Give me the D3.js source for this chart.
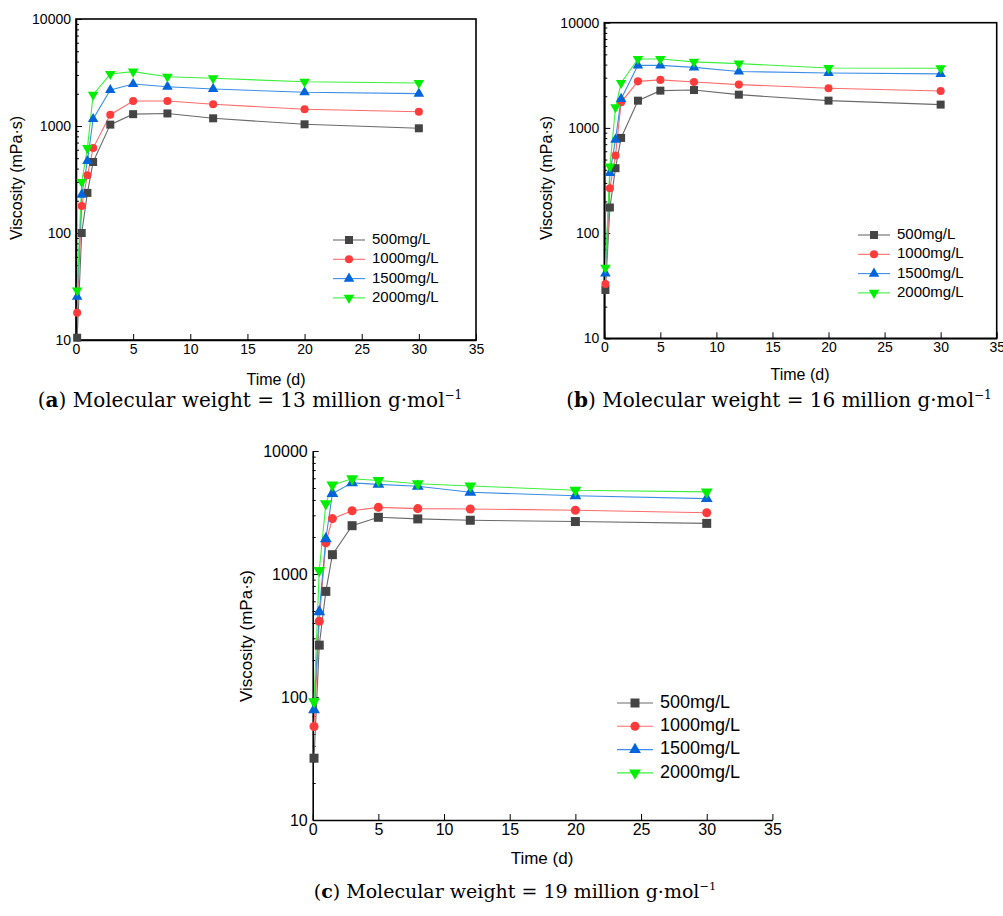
<!DOCTYPE html>
<html>
<head>
<meta charset="utf-8">
<script src="https://cdn.jsdelivr.net/npm/d3@7"></script>
<style>
  body { margin: 0; background: #fff; }
  svg { display: block; }
  .tick text { font-family: "Liberation Sans", Arial, sans-serif; fill: #000; }
  .axis path, .axis line { stroke: #000; }
</style>
</head>
<body>
<div id="chart"></div>
<script>
// time points (days), shared by all three panels
var times = [0.1, 0.5, 1, 1.5, 3, 5, 8, 12, 20, 30];
var seriesNames = ["500mg/L", "1000mg/L", "1500mg/L", "2000mg/L"];
var xTicks = [0, 5, 10, 15, 20, 25, 30, 35];
var yTicks = [10, 100, 1000, 10000];

// (a) 13 million g/mol
var a500 = [10.5, 100, 237, 461, 1030, 1290, 1310, 1180, 1037, 952];
var a1000 = [18, 179, 347, 622, 1275, 1713, 1713, 1595, 1432, 1360];
var a1500 = [25.4, 228, 470, 1162, 2170, 2470, 2330, 2220, 2065, 2005];
var a2000 = [29, 300, 622, 1960, 3060, 3220, 2890, 2790, 2595, 2525];

// (b) 16 million g/mol
var b500 = [28.8, 175, 414, 803, 1815, 2260, 2290, 2070, 1816, 1665];
var b1000 = [32.8, 267, 546, 1750, 2770, 2860, 2735, 2580, 2380, 2245];
var b1500 = [41.4, 372, 774, 1885, 3930, 3930, 3760, 3440, 3330, 3260];
var b2000 = [46.8, 429, 1570, 2675, 4520, 4520, 4240, 4080, 3715, 3690];

// (c) 19 million g/mol
var c500 = [31.8, 264, 722, 1436, 2470, 2890, 2805, 2735, 2670, 2580];
var c1000 = [57.5, 413, 1790, 2820, 3270, 3480, 3400, 3380, 3300, 3150];
var c1500 = [78.7, 492, 1928, 4510, 5510, 5350, 5170, 4615, 4330, 4100];
var c2000 = [91.8, 1070, 3730, 5300, 5950, 5760, 5420, 5200, 4800, 4650];

var lineColors = ["#6a6a6a", "#ff6b6b", "#3a8ee6", "#3cf03c"];
var markColors = ["#444444", "#ff3b3b", "#0064dc", "#00ee00"];

var svg = d3.select("#chart").append("svg")
  .attr("width", 1003)
  .attr("height", 916);

var panels = [
  { data: [a500, a1000, a1500, a2000], x0: 76, x1: 476, y0: 340, y1: 19, box: true,
    tickFont: 14, labFont: 16, mark: 8, legX: 333, legY: 240, legStep: 19.3, legFont: 15,
    yLab: [18, 178], xLab: [276, 381], cap: [250, 407], capNum: "a", capMw: "13", capFont: 20 },
  { data: [b500, b1000, b1500, b2000], x0: 604.3, x1: 996.7, y0: 338.3, y1: 22.7, box: true,
    tickFont: 14, labFont: 16, mark: 8, legX: 858, legY: 235, legStep: 19.3, legFont: 15,
    yLab: [548, 178], xLab: [800, 376], cap: [779, 407], capNum: "b", capMw: "16", capFont: 20 },
  { data: [c500, c1000, c1500, c2000], x0: 312.7, x1: 772.4, y0: 820, y1: 451, box: false,
    tickFont: 16, labFont: 17, mark: 9, legX: 617, legY: 703, legStep: 23.3, legFont: 18,
    yLab: [248, 636], xLab: [542, 860], cap: [515, 898], capNum: "c", capMw: "19", capFont: 19 }
];

var symbols = [d3.symbolSquare, d3.symbolCircle, d3.symbolTriangle, d3.symbolTriangle];

function minorTicks() {
  var out = [];
  [10, 100, 1000].forEach(function (dec) {
    for (var k = 2; k <= 9; k++) out.push(dec * k);
  });
  return out;
}

function markerPath(i, size) {
  var area = i == 1 ? size * size * 0.8 : (i == 0 ? size * size : size * size * 0.75);
  return d3.symbol().type(symbols[i]).size(area)();
}

function markerTransform(i) {
  return i == 3 ? " rotate(180)" : "";
}

panels.forEach(function (p) {
  var x = d3.scaleLinear().domain([0, 35]).range([p.x0, p.x1]);
  var y = d3.scaleLog().domain([10, 10000]).range([p.y0, p.y1]);
  var g = svg.append("g");

  if (p.box) {
    g.append("rect")
      .attr("x", p.x0).attr("y", p.y1)
      .attr("width", p.x1 - p.x0).attr("height", p.y0 - p.y1)
      .attr("fill", "none").attr("stroke", "#000").attr("stroke-width", 1.6);
  }

  // minor ticks on log axis
  g.append("g")
    .attr("class", "axis")
    .attr("transform", `translate(${p.x0},0)`)
    .call(d3.axisLeft(y).tickValues(minorTicks()).tickSizeInner(-3).tickSizeOuter(0).tickFormat(""))
    .call(function (s) { s.select(".domain").remove(); });

  var yAxis = g.append("g")
    .attr("class", "axis")
    .attr("transform", `translate(${p.x0},0)`)
    .call(d3.axisLeft(y).tickValues(yTicks).tickSizeInner(-6).tickSizeOuter(0)
      .tickPadding(5).tickFormat(d3.format("d")));
  yAxis.select(".domain").attr("stroke-width", 1.6);
  yAxis.selectAll(".tick text").attr("font-size", p.tickFont);

  var xAxis = g.append("g")
    .attr("class", "axis")
    .attr("transform", `translate(0,${p.y0})`)
    .call(d3.axisBottom(x).tickValues(xTicks).tickSizeInner(-6).tickSizeOuter(0).tickPadding(4));
  xAxis.select(".domain").attr("stroke-width", 1.6);
  xAxis.selectAll(".tick text").attr("font-size", p.tickFont);

  // axis titles
  g.append("text")
    .attr("transform", `translate(${p.yLab[0]},${p.yLab[1]}) rotate(-90)`)
    .attr("text-anchor", "middle")
    .attr("dominant-baseline", "middle")
    .attr("font-family", "Liberation Sans, Arial, sans-serif")
    .attr("font-size", p.labFont)
    .text("Viscosity (mPa·s)");

  g.append("text")
    .attr("x", p.xLab[0]).attr("y", p.xLab[1])
    .attr("text-anchor", "middle")
    .attr("dominant-baseline", "middle")
    .attr("font-family", "Liberation Sans, Arial, sans-serif")
    .attr("font-size", p.labFont)
    .text("Time (d)");

  var line = d3.line()
    .x(function (d, i) { return x(times[i]); })
    .y(function (d) { return y(d); });

  p.data.forEach(function (vals, si) {
    g.append("path")
      .datum(vals)
      .attr("d", line)
      .attr("fill", "none")
      .attr("stroke", lineColors[si])
      .attr("stroke-width", 1.1);
  });

  p.data.forEach(function (vals, si) {
    g.selectAll(null)
      .data(vals)
      .enter()
      .append("path")
      .attr("d", markerPath(si, p.mark))
      .attr("transform", function (d, i) {
        return `translate(${x(times[i])},${y(d)})` + markerTransform(si);
      })
      .attr("fill", markColors[si]);
  });

  // legend
  var lw = p.legFont >= 17 ? 36 : 32;
  var leg = g.selectAll(".leg")
    .data(seriesNames)
    .enter()
    .append("g")
    .attr("transform", function (d, i) { return `translate(${p.legX},${p.legY + i * p.legStep})`; });

  leg.append("line")
    .attr("x1", 0).attr("x2", lw)
    .attr("stroke", function (d, i) { return lineColors[i]; })
    .attr("stroke-width", 1.1);

  leg.append("path")
    .attr("d", function (d, i) { return markerPath(i, p.mark); })
    .attr("transform", function (d, i) { return `translate(${lw / 2},0)` + markerTransform(i); })
    .attr("fill", function (d, i) { return markColors[i]; });

  leg.append("text")
    .attr("x", lw + 7)
    .attr("dominant-baseline", "middle")
    .attr("font-family", "Liberation Sans, Arial, sans-serif")
    .attr("font-size", p.legFont)
    .text(function (d) { return d; });

  // caption
  var cap = svg.append("text")
    .attr("x", p.cap[0]).attr("y", p.cap[1])
    .attr("text-anchor", "middle")
    .attr("font-family", "'DejaVu Serif', 'Liberation Serif', serif")
    .attr("font-size", p.capFont);
  cap.append("tspan").text("(");
  cap.append("tspan").attr("font-weight", "bold").text(p.capNum);
  cap.append("tspan").text(") Molecular weight = " + p.capMw + " million g·mol");
  cap.append("tspan").attr("font-size", p.capFont * 0.6).attr("dy", -8).text("−1");
});
</script>
</body>
</html>
